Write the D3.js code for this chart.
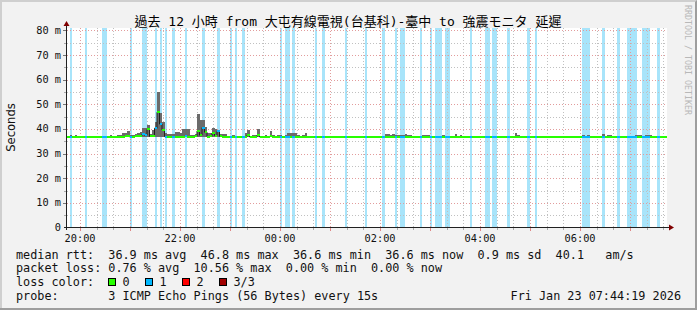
<!DOCTYPE html>
<html>
<head>
<meta charset="utf-8">
<script src="https://cdn.jsdelivr.net/npm/d3@7"></script>
<style>
body { margin: 0; background: #f2f2f2; }
svg text { font-family: "DejaVu Sans Mono", "Noto Sans CJK TC", monospace; white-space: pre; }
</style>
</head>
<body>
<svg id="chart"></svg>
<script>
var width = 697;
var height = 310;

// 12 hours, one sample every 3 minutes
var startTime = new Date(2026, 0, 22, 19, 44, 19);
var endTime = new Date(2026, 0, 23, 7, 44, 19);
var stepMinutes = 3;

// median rtt (ms) per sample
var median = [
  36.7,36.7,36.7,36.9,36.8,36.7,36.7,36.7,36.9,36.7,36.6,36.7,36.6,36.7,36.9,36.9,36.6,36.7,36.9,36.7,
  36.8,36.8,36.9,37.0,37.1,36.8,36.8,37.0,37.0,37.3,37.9,37.5,39.8,37.0,37.2,40.3,46.8,42.0,39.6,36.9,
  36.8,36.7,36.7,36.8,36.8,36.9,36.9,37.0,36.9,36.7,36.6,37.0,39.2,37.5,40.6,38.7,36.9,37.0,38.3,37.3,
  39.0,37.0,36.9,36.7,36.6,36.6,36.8,36.7,36.7,36.8,36.6,36.9,37.5,36.8,36.9,36.8,37.5,36.8,36.7,36.8,
  36.7,37.0,36.8,36.7,36.8,36.8,36.7,36.6,36.6,36.7,36.7,36.7,36.7,36.6,36.6,36.7,36.6,36.6,36.6,36.6,
  36.6,36.6,36.6,36.6,36.6,36.6,36.6,36.6,36.6,36.7,36.6,36.6,36.6,36.6,36.6,36.6,36.6,36.6,36.6,36.6,
  36.6,36.6,36.6,36.6,36.6,36.6,36.6,36.7,36.7,36.6,36.7,36.6,36.6,36.6,36.6,36.7,36.6,36.6,36.6,36.6,
  36.6,36.6,36.6,36.6,36.6,36.6,36.6,36.6,36.6,36.6,36.6,36.6,36.6,36.6,36.6,36.7,36.6,36.6,36.6,36.6,
  36.6,36.6,36.6,36.6,36.6,36.6,36.6,36.6,36.6,36.6,36.6,36.6,36.6,36.6,36.6,36.6,36.6,36.6,36.6,36.7,
  36.6,36.6,36.6,36.6,36.6,36.6,36.6,36.6,36.6,36.6,36.6,36.6,36.6,36.6,36.6,36.6,36.6,36.6,36.6,36.6,
  36.6,36.6,36.6,36.6,36.6,36.6,36.6,36.6,36.6,36.6,36.6,36.6,36.6,36.6,36.7,36.6,36.6,36.6,36.6,36.6,
  36.6,36.6,36.6,36.6,36.6,36.6,36.6,36.6,36.6,36.6,36.6,36.6,36.6,36.6,36.6,36.6,36.6,36.6,36.6,36.6
];

// highest ping (ms) per sample - top of the smoke
var pingMax = [
  37.2,37.6,37.2,37.4,37.3,37.3,37.0,37.1,37.3,37.3,36.9,37.3,36.9,37.0,37.3,37.2,37.0,37.4,37.3,37.0,
  37.5,37.6,38.2,38.5,39.3,37.4,37.5,38.0,38.4,38.8,40.6,40.6,41.7,37.8,39.4,43.0,55.2,46.5,42.7,38.3,
  38.0,38.0,37.9,38.6,38.7,38.4,40.0,40.0,40.0,37.6,37.5,38.0,46.1,43.7,43.7,41.0,38.3,38.2,40.3,40.0,
  39.5,38.0,38.0,37.9,37.0,37.0,37.6,37.3,37.0,37.2,36.9,38.5,39.7,37.3,37.5,37.6,40.0,37.3,37.0,37.4,
  37.1,39.0,37.6,37.0,37.6,37.5,37.3,37.6,38.3,38.3,38.3,38.4,37.5,37.2,37.4,38.5,37.3,37.3,36.9,36.9,
  36.9,36.9,36.9,36.9,36.9,36.9,36.9,36.9,36.9,37.3,36.9,36.9,36.9,36.9,37.2,36.9,36.9,36.9,36.9,36.9,
  36.9,36.9,36.9,36.9,36.9,36.9,36.9,38.0,38.0,37.4,38.0,37.4,37.6,37.6,37.6,37.8,37.6,37.6,36.9,37.2,
  36.9,36.9,37.6,37.6,37.6,37.2,37.2,37.2,36.9,37.2,37.6,36.9,36.9,36.9,36.9,38.0,36.9,37.6,36.9,36.9,
  36.9,37.2,36.9,36.9,37.2,36.9,36.9,36.9,36.9,36.9,37.2,36.9,36.9,36.9,36.9,37.2,37.2,36.9,36.9,38.4,
  37.6,36.9,36.9,36.9,36.9,36.9,36.9,36.9,36.9,36.9,37.2,36.9,36.9,36.9,36.9,37.2,36.9,36.9,36.9,36.9,
  36.9,36.9,36.9,36.9,36.9,37.2,37.6,36.9,37.6,37.2,36.9,36.9,36.9,36.9,38.0,36.9,37.6,37.6,36.9,36.9,
  36.9,36.9,36.9,36.9,36.9,37.2,36.9,37.6,37.6,37.7,36.9,37.6,37.6,37.6,37.2,36.9,36.9,36.9,36.9,36.9
];

// lowest ping (ms) per sample - bottom of the smoke
var pingMin = [
  36.4,36.4,36.4,36.5,36.4,36.4,36.4,36.4,36.5,36.4,36.4,36.4,36.4,36.4,36.5,36.5,36.4,36.4,36.5,36.4,
  36.5,36.5,36.5,36.6,36.6,36.5,36.5,36.6,36.6,36.6,36.6,36.6,36.7,36.6,36.6,36.7,36.8,36.7,36.6,36.5,
  36.5,36.4,36.4,36.5,36.5,36.5,36.5,36.6,36.5,36.4,36.4,36.6,36.7,36.6,36.7,36.6,36.5,36.6,36.6,36.6,
  36.7,36.6,36.5,36.4,36.4,36.4,36.5,36.4,36.4,36.5,36.4,36.5,36.6,36.5,36.5,36.5,36.6,36.5,36.4,36.5,
  36.4,36.6,36.5,36.4,36.5,36.5,36.4,36.4,36.4,36.4,36.4,36.4,36.4,36.4,36.4,36.4,36.4,36.4,36.4,36.4,
  36.4,36.4,36.4,36.4,36.4,36.4,36.4,36.4,36.4,36.4,36.4,36.4,36.4,36.4,36.4,36.4,36.4,36.4,36.4,36.4,
  36.4,36.4,36.4,36.4,36.4,36.4,36.4,36.4,36.4,36.4,36.4,36.4,36.4,36.4,36.4,36.4,36.4,36.4,36.4,36.4,
  36.4,36.4,36.4,36.4,36.4,36.4,36.4,36.4,36.4,36.4,36.4,36.4,36.4,36.4,36.4,36.4,36.4,36.4,36.4,36.4,
  36.4,36.4,36.4,36.4,36.4,36.4,36.4,36.4,36.4,36.4,36.4,36.4,36.4,36.4,36.4,36.4,36.4,36.4,36.4,36.4,
  36.4,36.4,36.4,36.4,36.4,36.4,36.4,36.4,36.4,36.4,36.4,36.4,36.4,36.4,36.4,36.4,36.4,36.4,36.4,36.4,
  36.4,36.4,36.4,36.4,36.4,36.4,36.4,36.4,36.4,36.4,36.4,36.4,36.4,36.4,36.4,36.4,36.4,36.4,36.4,36.4,
  36.4,36.4,36.4,36.4,36.4,36.4,36.4,36.4,36.4,36.4,36.4,36.4,36.4,36.4,36.4,36.4,36.4,36.4,36.4,36.4
];

// lost pings (of 3) per sample
var lossCount = [
  0,1,0,0,0,0,0,1,0,0,0,0,0,0,1,1,0,0,0,0,
  0,0,0,0,0,1,0,0,0,0,1,1,0,0,0,1,0,1,0,1,
  0,0,1,0,0,0,0,1,0,0,0,0,0,0,1,0,0,0,0,0,
  1,0,0,0,0,1,0,1,0,0,1,0,0,0,0,0,0,0,0,0,
  0,0,0,0,0,1,0,1,1,0,1,0,0,0,0,0,0,0,0,1,
  0,0,1,0,0,0,0,0,0,0,0,1,0,0,0,0,0,0,0,1,
  0,0,0,0,0,0,1,0,0,0,0,1,0,1,1,0,0,0,0,0,
  0,1,0,0,0,1,0,1,1,1,0,1,1,0,0,0,0,0,0,0,
  0,1,0,0,0,0,0,1,1,0,1,1,0,0,0,0,1,0,0,0,
  0,0,0,0,1,0,0,1,0,0,0,0,0,0,0,0,0,0,0,0,
  0,0,0,0,0,0,1,1,1,0,0,0,0,0,1,0,0,0,0,0,
  1,0,0,0,1,1,1,1,0,0,1,1,1,0,0,0,1,0,0,0
];

var yTicks = [0, 10, 20, 30, 40, 50, 60, 70, 80];
var yMinor = [5, 15, 25, 35, 45, 55, 65, 75];
var lossColors = ["#26ff00", "#00b8ff", "#ff0000", "#a10000"];
var lossBandColor = "#a8e4fa";
var lossLabels = ["0", "1", "2", "3/3"];

var titleText = "過去 12 小時 from 大屯有線電視(台基科)-臺中 to 強震モニタ 延遲";
var rttLegend = ["median rtt:", "36.9 ms avg", "46.8 ms max", "36.6 ms min", "36.6 ms now", "0.9 ms sd", "40.1", "am/s"];
var rttCols = [0, 13, 26, 39, 52, 65, 76, 83];
var lossLegend = ["packet loss:", "0.76 % avg", "10.56 % max", "0.00 % min", "0.00 % now"];
var lossCols = [0, 13, 25, 38, 50];
var probeText = "3 ICMP Echo Pings (56 Bytes) every 15s";
var stampText = "Fri Jan 23 07:44:19 2026";

var plot = {left: 67, right: 667, top: 28, bottom: 227.5};
var charW = 7.1;
var legendX = 16;

var svg = d3.select("#chart").attr("width", width).attr("height", height);

// background + 3d frame
svg.append("rect").attr("width", width).attr("height", height).attr("fill", "#f2f2f2");
svg.append("path").attr("d", "M0,0H697V2H2V310H0Z").attr("fill", "#cfcfcf");
svg.append("path").attr("d", "M697,0V310H0V308H695V2Z").attr("fill", "#9e9e9e");

var x = d3.scaleTime().domain([startTime, endTime]).range([plot.left, plot.right]);
var y = d3.scaleLinear().domain([0, 81]).range([plot.bottom, plot.top]);

var samples = median.map(function(m, i) {
  var t0 = new Date(startTime.getTime() + i * stepMinutes * 60000);
  var t1 = new Date(t0.getTime() + stepMinutes * 60000);
  return {t0: t0, t1: t1, median: m, max: pingMax[i], min: pingMin[i], loss: lossCount[i]};
});

svg.append("rect")
  .attr("x", plot.left).attr("y", plot.top)
  .attr("width", plot.right - plot.left).attr("height", plot.bottom - plot.top)
  .attr("fill", "#ffffff");

// loss background bands
svg.append("g").attr("shape-rendering", "crispEdges")
  .selectAll("rect")
  .data(samples.filter(function(d) { return d.loss > 0; }))
  .enter().append("rect")
    .attr("x", function(d) { return x(d.t0); })
    .attr("width", function(d) { return x(d.t1) - x(d.t0); })
    .attr("y", plot.top)
    .attr("height", plot.bottom - plot.top)
    .attr("fill", lossBandColor);

// grid
var grid = svg.append("g").attr("shape-rendering", "crispEdges").attr("stroke-dasharray", "1,2");
var snap = function(v) { return Math.round(v) + 0.5; };
var minorCol = "#c0c0c0";
var majorCol = "#e29c9c";

grid.selectAll(".hmin").data(yMinor).enter().append("line")
  .attr("x1", plot.left).attr("x2", plot.right)
  .attr("y1", function(d) { return snap(y(d)); }).attr("y2", function(d) { return snap(y(d)); })
  .attr("stroke", minorCol);

var minorTimes = d3.timeMinute.every(20).range(startTime, endTime).filter(function(t) { return t.getMinutes() != 0; });
var hourTimes = d3.timeHour.range(startTime, endTime);

grid.selectAll(".vmin").data(minorTimes).enter().append("line")
  .attr("y1", plot.top).attr("y2", plot.bottom)
  .attr("x1", function(d) { return snap(x(d)); }).attr("x2", function(d) { return snap(x(d)); })
  .attr("stroke", minorCol);

grid.selectAll(".hmaj").data(yTicks.slice(1)).enter().append("line")
  .attr("x1", plot.left).attr("x2", plot.right)
  .attr("y1", function(d) { return snap(y(d)); }).attr("y2", function(d) { return snap(y(d)); })
  .attr("stroke", majorCol);

grid.selectAll(".vmaj").data(hourTimes).enter().append("line")
  .attr("y1", plot.top).attr("y2", plot.bottom)
  .attr("x1", function(d) { return snap(x(d)); }).attr("x2", function(d) { return snap(x(d)); })
  .attr("stroke", majorCol);

// smoke
svg.append("g").attr("shape-rendering", "crispEdges")
  .selectAll("rect")
  .data(samples)
  .enter().append("rect")
    .attr("x", function(d) { return x(d.t0); })
    .attr("width", function(d) { return x(d.t1) - x(d.t0); })
    .attr("y", function(d) { return y(d.max); })
    .attr("height", function(d) { return y(d.min) - y(d.max); })
    .attr("fill", "#6b6b6b");

// median line
var medLine = d3.line()
  .x(function(d) { return x(d.t); })
  .y(function(d) { return y(d.v); })
  .curve(d3.curveStepAfter);
var medPts = samples.map(function(d) { return {t: d.t0, v: d.median}; });
medPts.push({t: endTime, v: median[median.length - 1]});
svg.append("path").datum(medPts)
  .attr("d", medLine)
  .attr("fill", "none")
  .attr("stroke", "#202020")
  .attr("stroke-width", 1);

// median marker coloured by loss
svg.append("g").attr("shape-rendering", "crispEdges")
  .selectAll("rect")
  .data(samples)
  .enter().append("rect")
    .attr("x", function(d) { return x(d.t0); })
    .attr("width", function(d) { return x(d.t1) - x(d.t0); })
    .attr("y", function(d) { return y(d.median) - 1; })
    .attr("height", 2)
    .attr("fill", function(d) { return lossColors[d.loss]; });

// axes
var axis = svg.append("g").attr("shape-rendering", "crispEdges");
axis.append("line").attr("x1", 64).attr("x2", 670).attr("y1", 227.5).attr("y2", 227.5).attr("stroke", "#212121");
axis.append("line").attr("x1", 66.5).attr("x2", 66.5).attr("y1", 230).attr("y2", 25).attr("stroke", "#212121");
svg.append("path").attr("d", "M669,224.5L674,227.5L669,230.5Z").attr("fill", "#800000");
svg.append("path").attr("d", "M63.5,26L66.5,21L69.5,26Z").attr("fill", "#800000");

axis.selectAll(".ytk").data(yTicks.slice(1)).enter().append("line")
  .attr("x1", 63).attr("x2", 66)
  .attr("y1", function(d) { return snap(y(d)); }).attr("y2", function(d) { return snap(y(d)); })
  .attr("stroke", "#777");
axis.selectAll(".ytm").data(yMinor).enter().append("line")
  .attr("x1", 64).attr("x2", 66)
  .attr("y1", function(d) { return snap(y(d)); }).attr("y2", function(d) { return snap(y(d)); })
  .attr("stroke", "#aaa");
axis.selectAll(".xtk").data(hourTimes).enter().append("line")
  .attr("y1", 228).attr("y2", 231)
  .attr("x1", function(d) { return snap(x(d)); }).attr("x2", function(d) { return snap(x(d)); })
  .attr("stroke", "#e08888");
axis.selectAll(".xtm").data(minorTimes).enter().append("line")
  .attr("y1", 228).attr("y2", 230)
  .attr("x1", function(d) { return snap(x(d)); }).attr("x2", function(d) { return snap(x(d)); })
  .attr("stroke", "#aaa");

svg.append("g").selectAll("text")
  .data(yTicks).enter().append("text")
    .attr("x", 61)
    .attr("y", function(d) { return y(d) + 3.5; })
    .attr("text-anchor", "end")
    .attr("font-size", "10.3px")
    .attr("fill", "#111")
    .text(function(d) { return d == 0 ? "0" : d + " m"; });

var fmt = d3.timeFormat("%H:%M");
svg.append("g").selectAll("text")
  .data(d3.timeHour.every(2).range(startTime, endTime)).enter().append("text")
    .attr("x", function(d) { return x(d); })
    .attr("y", 242)
    .attr("text-anchor", "middle")
    .attr("font-size", "10.3px")
    .attr("fill", "#111")
    .text(fmt);

// titles
svg.append("text")
  .attr("x", 348).attr("y", 25.5)
  .attr("text-anchor", "middle")
  .attr("font-size", "13px")
  .attr("fill", "#000")
  .text(titleText);

svg.append("text")
  .attr("transform", "translate(14.5,127.5) rotate(-90)")
  .attr("text-anchor", "middle")
  .style("font-family", "DejaVu Sans")
  .attr("font-size", "11.6px")
  .attr("fill", "#111")
  .text("Seconds");

svg.append("text")
  .attr("transform", "translate(685,5) rotate(90)")
  .attr("font-size", "8.3px")
  .attr("fill", "#b8b8b8")
  .text("RRDTOOL / TOBI OETIKER");

// legend
var legend = svg.append("g").attr("font-size", "11.8px").attr("fill", "#111");
var lineY = [258.5, 272.2, 285.9, 299.6];

legend.selectAll(".rtt").data(rttLegend).enter().append("text")
  .attr("x", function(d, i) { return legendX + rttCols[i] * charW; })
  .attr("y", lineY[0])
  .text(function(d) { return d; });

legend.selectAll(".loss").data(lossLegend).enter().append("text")
  .attr("x", function(d, i) { return legendX + lossCols[i] * charW; })
  .attr("y", lineY[1])
  .text(function(d) { return d; });

legend.append("text").attr("x", legendX).attr("y", lineY[2]).text("loss color:");
var swatch = legend.selectAll(".sw").data(lossColors).enter().append("g")
  .attr("transform", function(d, i) { return "translate(" + (108.5 + i * 37) + "," + 278.5 + ")"; });
swatch.append("rect").attr("width", 7).attr("height", 7)
  .attr("fill", function(d) { return d; })
  .attr("stroke", "#000").attr("stroke-width", 1)
  .attr("shape-rendering", "crispEdges");
swatch.append("text").attr("x", 14).attr("y", 7.4)
  .text(function(d, i) { return lossLabels[i]; });

legend.append("text").attr("x", legendX).attr("y", lineY[3]).text("probe:");
legend.append("text").attr("x", legendX + 13 * charW).attr("y", lineY[3]).text(probeText);
legend.append("text").attr("x", 681).attr("y", lineY[3]).attr("text-anchor", "end").text(stampText);
</script>
</body>
</html>
